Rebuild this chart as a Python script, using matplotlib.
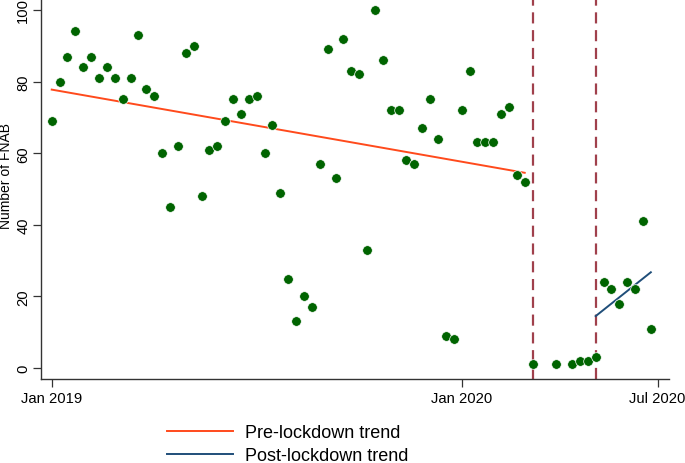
import numpy as np
import matplotlib
matplotlib.use("Agg")
import matplotlib.pyplot as plt
from matplotlib.lines import Line2D

plt.rcParams['font.family'] = ['Liberation Sans', 'DejaVu Sans']

# week index since first week of Jan 2019
weeks = [0, 1, 2, 3, 4, 5, 6, 7, 8, 9, 10, 11, 12, 13, 14, 15, 16, 17, 18, 19,
         20, 21, 22, 23, 24, 25, 26, 27, 28, 29, 30, 31, 32, 33, 34, 35, 36, 37, 38, 39,
         40, 41, 42, 43, 44, 45, 46, 47, 48, 49, 50, 51, 52, 53, 54, 55, 56, 57, 58, 59,
         60, 61, 64, 66, 67, 68, 69, 70, 71, 72, 73, 74, 75, 76]
fnab = [69, 80, 87, 94, 84, 87, 81, 84, 81, 75, 81, 93, 78, 76, 60, 45, 62, 88, 90, 48,
        61, 62, 69, 75, 71, 75, 76, 60, 68, 49, 25, 13, 20, 17, 57, 89, 53, 92, 83, 82,
        33, 100, 86, 72, 72, 58, 57, 67, 75, 64, 9, 8, 72, 83, 63, 63, 63, 71, 73, 54,
        52, 1, 1, 1, 2, 2, 3, 24, 22, 18, 24, 22, 41, 11]

lockdown_start = 61
lockdown_end = 69

tick_pos = [0, 52, 76.85]
tick_labels = ["Jan 2019", "Jan 2020", "Jul 2020"]

w = np.array(weeks, dtype=float)
y = np.array(fnab, dtype=float)

pre = w < lockdown_start
post = w >= lockdown_end
p_pre = np.polyfit(w[pre], y[pre], 1)
p_post = np.polyfit(w[post], y[post], 1)

fig = plt.figure(figsize=(6.85, 4.64), dpi=100)
ax = fig.add_axes([0.0594, 0.181, 0.9172, 0.819])

xa = np.array([w[pre].min(), w[pre].max()])
ax.plot(xa, np.polyval(p_pre, xa), color='#FF4A1C', lw=1.4, zorder=3)
xb = np.array([w[post].min(), w[post].max()])
ax.plot(xb, np.polyval(p_post, xb), color='#1F4E79', lw=1.4, zorder=3)

ax.scatter(w, y, s=48, color='#006400', edgecolor='white', linewidth=0.5, zorder=4)

for xv in (lockdown_start, lockdown_end):
    ax.axvline(xv, color='#A0404C', lw=1.6, dashes=(5, 3), zorder=2)

ax.set_xlim(-1.4, 78.3)
ax.set_ylim(-3.07, 103.07)
ax.set_yticks([0, 20, 40, 60, 80, 100])
ax.set_yticklabels(['0', '20', '40', '60', '80', '100'], rotation=90, va='center', fontsize=10.6)
ax.set_xticks(tick_pos)
ax.set_xticklabels(tick_labels, fontsize=10.6)
ax.tick_params(direction='out', length=5.5, width=0.9, color='#333333')
ax.tick_params(axis='y', pad=2)
ax.tick_params(axis='x', pad=3)
ax.set_ylabel("Number of FNAB", fontsize=10)
ax.yaxis.set_label_coords(-0.044, 0.536)
for s in ('top', 'right'):
    ax.spines[s].set_visible(False)
for s in ('left', 'bottom'):
    ax.spines[s].set_linewidth(1.0)
    ax.spines[s].set_color('#333333')

handles = [Line2D([], [], color='#FF4A1C', lw=1.4),
           Line2D([], [], color='#1F4E79', lw=1.4)]
fig.legend(handles, ["Pre-lockdown trend", "Post-lockdown trend"],
           loc='center', bbox_to_anchor=(0.4194, 0.040), frameon=False,
           fontsize=13, handlelength=3.65, handletextpad=0.66, labelspacing=0.33,
           borderaxespad=0)

fig.savefig("out.png", dpi=100)
